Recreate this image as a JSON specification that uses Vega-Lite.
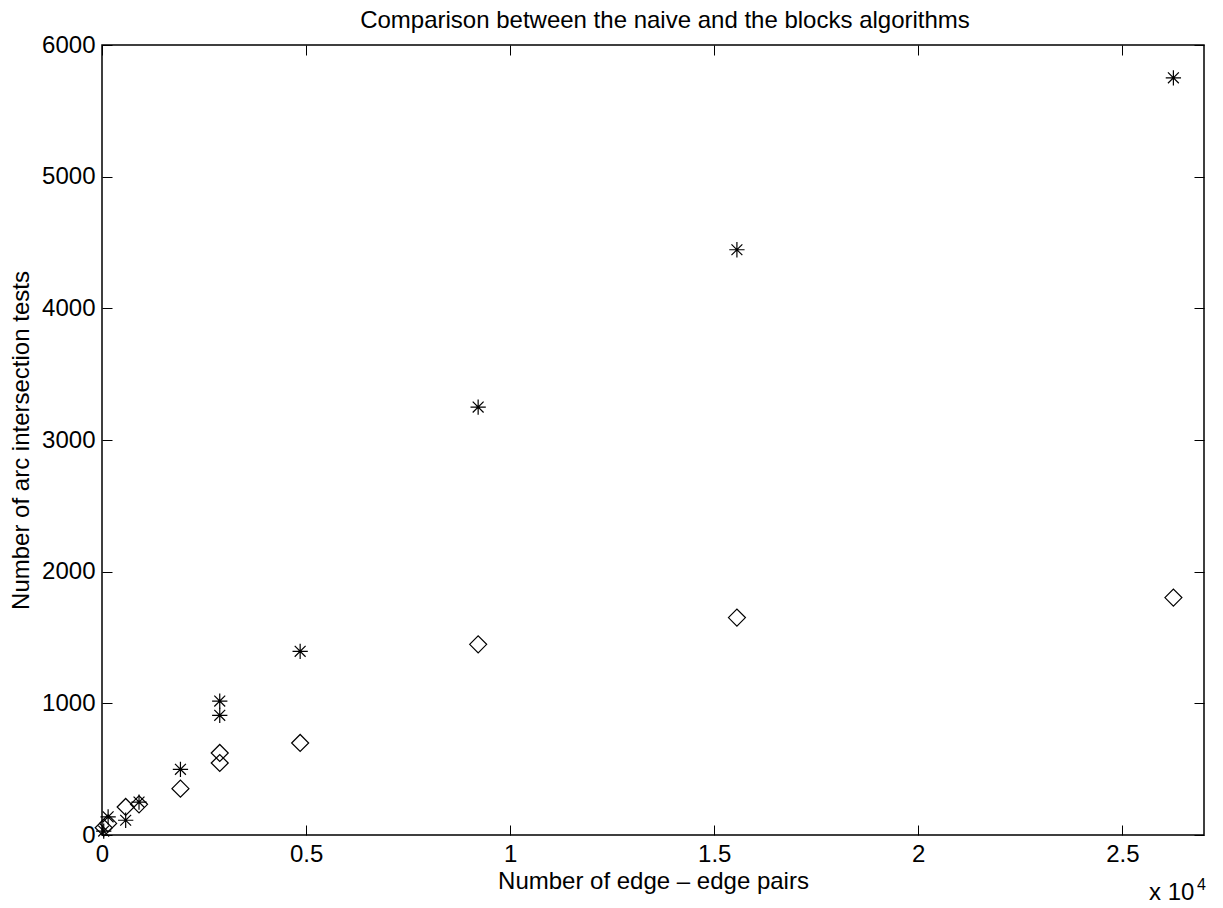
{
  "$schema": "https://vega.github.io/schema/vega-lite/v6.json",
  "width": 1102,
  "height": 790,
  "autosize": {"type": "none"},
  "padding": {"left": 102, "top": 45, "right": 19, "bottom": 73},
  "background": "white",
  "config": {
    "font": "Liberation Sans",
    "view": {"stroke": "black", "strokeWidth": 1.5},
    "axis": {
      "grid": false,
      "domain": false,
      "tickColor": "black",
      "tickSize": -10,
      "tickWidth": 1,
      "labelFlush": false,
      "labelColor": "black",
      "labelFont": "Liberation Sans",
      "labelFontSize": 24,
      "titleFont": "Liberation Sans",
      "titleFontSize": 24,
      "titleFontWeight": "normal",
      "titleColor": "black"
    }
  },
  "title": {
    "text": "Comparison between the naive and the blocks algorithms",
    "font": "Liberation Sans",
    "fontSize": 24,
    "fontWeight": "normal",
    "color": "black",
    "anchor": "middle",
    "offset": 0,
    "dx": 12
  },
  "layer": [
    {
      "data": {
        "values": [
          {"pairs": 42, "tests": 30, "algo": "naive"},
          {"pairs": 150, "tests": 138, "algo": "naive"},
          {"pairs": 580, "tests": 112, "algo": "naive"},
          {"pairs": 907, "tests": 250, "algo": "naive"},
          {"pairs": 1922, "tests": 499, "algo": "naive"},
          {"pairs": 2885, "tests": 909, "algo": "naive"},
          {"pairs": 2885, "tests": 1017, "algo": "naive"},
          {"pairs": 4855, "tests": 1395, "algo": "naive"},
          {"pairs": 9216, "tests": 3250, "algo": "naive"},
          {"pairs": 15556, "tests": 4445, "algo": "naive"},
          {"pairs": 26250, "tests": 5751, "algo": "naive"},
          {"pairs": 42, "tests": 55, "algo": "blocks"},
          {"pairs": 150, "tests": 88, "algo": "blocks"},
          {"pairs": 580, "tests": 213, "algo": "blocks"},
          {"pairs": 907, "tests": 233, "algo": "blocks"},
          {"pairs": 1922, "tests": 352, "algo": "blocks"},
          {"pairs": 2885, "tests": 547, "algo": "blocks"},
          {"pairs": 2885, "tests": 623, "algo": "blocks"},
          {"pairs": 4855, "tests": 699, "algo": "blocks"},
          {"pairs": 9216, "tests": 1448, "algo": "blocks"},
          {"pairs": 15556, "tests": 1651, "algo": "blocks"},
          {"pairs": 26250, "tests": 1803, "algo": "blocks"}
        ]
      },
      "mark": {"type": "point", "filled": false, "color": "black", "strokeWidth": 1.2, "opacity": 1},
      "encoding": {
        "x": {
          "field": "pairs", "type": "quantitative",
          "scale": {"domain": [0, 27000], "nice": false, "zero": false},
          "axis": {"orient": "bottom", "values": [0, 5000, 10000, 15000, 20000, 25000], "labelExpr": "datum.value / 10000", "labelPadding": 17, "title": "Number of edge \u2013 edge pairs", "titlePadding": 3}
        },
        "y": {
          "field": "tests", "type": "quantitative",
          "scale": {"domain": [0, 6000], "nice": false, "zero": false},
          "axis": {"orient": "left", "values": [0, 1000, 2000, 3000, 4000, 5000, 6000], "labelExpr": "datum.value", "labelPadding": 17, "title": "Number of arc intersection tests", "titlePadding": 8}
        },
        "shape": {
          "field": "algo", "type": "nominal",
          "scale": {"domain": ["naive", "blocks"], "range": ["M-0.9,0L0.9,0M0,-0.9L0,0.9M-0.64,-0.64L0.64,0.64M-0.64,0.64L0.64,-0.64", "diamond"]},
          "legend": null
        },
        "size": {"value": 289}
      }
    },
    {
      "data": {"values": [{"note": "x 10"}]},
      "mark": {"type": "text", "fontSize": 24, "font": "Liberation Sans", "color": "black", "align": "left", "baseline": "alphabetic"},
      "encoding": {
        "text": {"field": "note"},
        "x": {"datum": 25655, "type": "quantitative", "axis": {"orient": "top", "values": [0, 5000, 10000, 15000, 20000, 25000], "labels": false, "title": null}},
        "y": {"datum": -495, "type": "quantitative", "axis": {"orient": "right", "values": [0, 1000, 2000, 3000, 4000, 5000, 6000], "labels": false, "title": null}}
      }
    },
    {
      "data": {"values": [{"note": "4"}]},
      "mark": {"type": "text", "fontSize": 16, "font": "Liberation Sans", "color": "black", "align": "left", "baseline": "alphabetic"},
      "encoding": {
        "text": {"field": "note"},
        "x": {"datum": 26830, "type": "quantitative", "axis": null},
        "y": {"datum": -418, "type": "quantitative", "axis": null}
      }
    }
  ],
  "resolve": {"axis": {"x": "independent", "y": "independent"}}
}
